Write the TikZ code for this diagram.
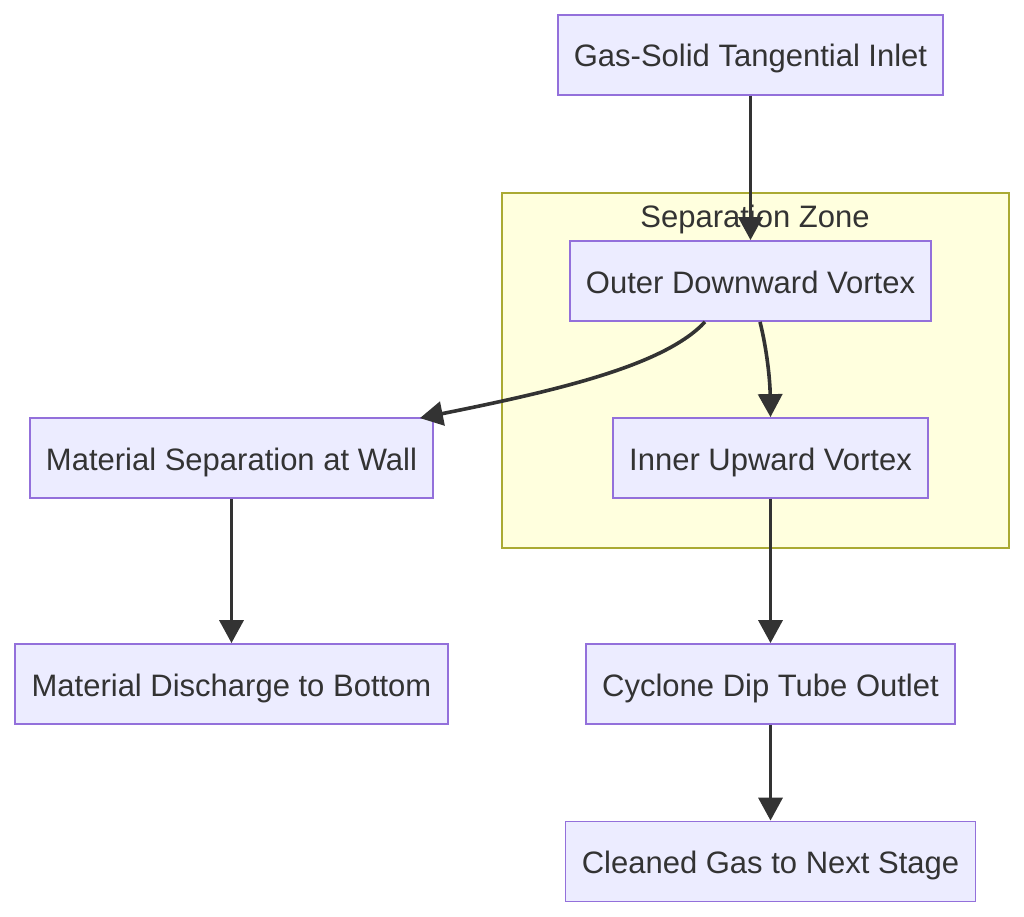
\documentclass[tikz,border=0pt]{standalone}
\usepackage{fontspec}
\setmainfont{Liberation Sans}
\usetikzlibrary{arrows.meta}
\definecolor{nodefill}{HTML}{ECECFF}
\definecolor{nodeedge}{HTML}{9370DB}
\definecolor{zonefill}{HTML}{FFFFDE}
\definecolor{zoneedge}{HTML}{AAAA33}
\definecolor{ink}{HTML}{333333}
\tikzset{
  flowbox/.style={draw=nodeedge, fill=nodefill, line width=1.8pt, text=ink,
    font=\fontsize{31}{36}\selectfont, minimum height=80pt, inner sep=0pt, anchor=center,
    text height=27pt, text depth=3pt},
  flowarrow/.style={draw=ink, line width=3.6pt, -{Triangle[length=23pt,width=24pt]}},
}
\begin{document}
\begin{tikzpicture}[x=1pt,y=-1pt]
\useasboundingbox (0,0) rectangle (1024,917);
% cluster
\node[draw=zoneedge, fill=zonefill, line width=1.8pt, minimum width=507pt, minimum height=355pt, inner sep=0pt, anchor=north west] (zone) at (501,192) {};
\node[text=ink, font=\fontsize{31}{36}\selectfont, text height=26pt, text depth=4pt, inner sep=0pt] (zonelabel) at (755,217) {Separation Zone};
% nodes
\node[flowbox, minimum width=385pt] (inlet) at (750.5,55) {Gas-Solid Tangential Inlet};
\node[flowbox, minimum width=361pt] (outer) at (750.5,281) {Outer Downward Vortex};
\node[flowbox, minimum width=315pt] (inner) at (770.5,458) {Inner Upward Vortex};
\node[flowbox, minimum width=403pt] (matsep) at (231.5,458) {Material Separation at Wall};
\node[flowbox, minimum width=433pt] (discharge) at (231.5,684) {Material Discharge to Bottom};
\node[flowbox, minimum width=369pt] (dip) at (770.5,684) {Cyclone Dip Tube Outlet};
\node[flowbox, minimum width=410pt] (clean) at (770.5,861.5) {Cleaned Gas to Next Stage};
% connectors
\draw[flowarrow] (inlet.south) -- (outer.north);
\draw[flowarrow] ([xshift=-45.5pt]outer.south) .. controls (665,365) and (560,390) .. ([xshift=-14pt,yshift=-1pt]matsep.north east);
\draw[flowarrow] ([xshift=9.5pt]outer.south) .. controls (767,350) and (770,380) .. (inner.north);
\draw[flowarrow] (inner.south) -- (dip.north);
\draw[flowarrow] (matsep.south) -- (discharge.north);
\draw[flowarrow] (dip.south) -- (clean.north);
\end{tikzpicture}
\end{document}
